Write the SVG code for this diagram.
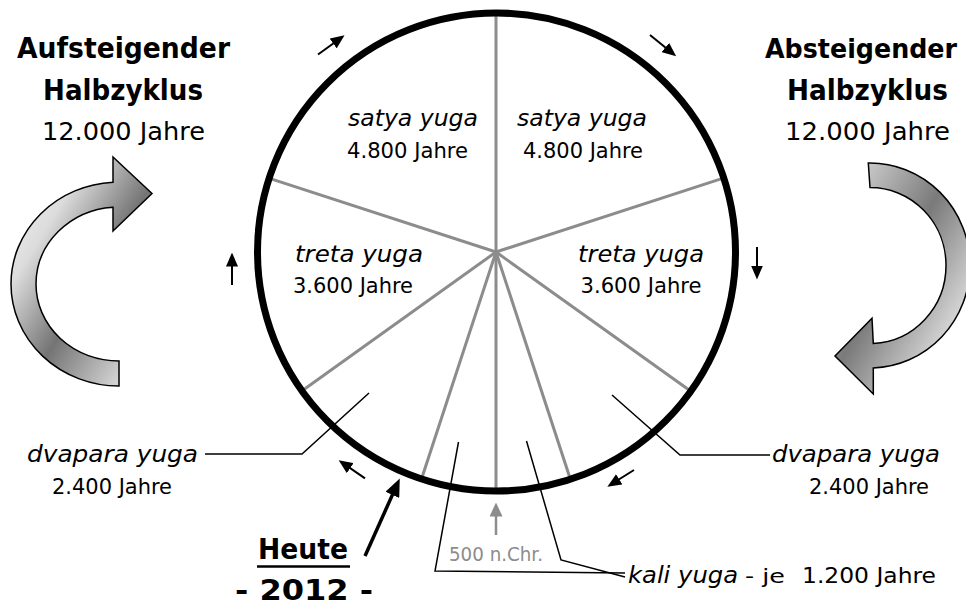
<svg xmlns="http://www.w3.org/2000/svg" width="966" height="606" viewBox="0 0 966 606">
<style>
  text { font-family: "DejaVu Sans", "Liberation Sans", sans-serif; fill: #000; }
  .title { font-weight: bold; font-size: 29px; text-anchor: middle; }
  .years { font-size: 24.5px; text-anchor: middle; }
  .yuga { font-style: italic; font-size: 23px; text-anchor: middle; }
  .sub { font-size: 20.5px; text-anchor: middle; }
  .spoke { stroke: #8c8c8c; stroke-width: 3; fill: none; }
  .leader { stroke: #000; stroke-width: 1.5; fill: none; }
  .arr { stroke: #000; stroke-width: 2; fill: none; }
  .big { stroke: #000; stroke-width: 1.5; }
</style>
<defs>
  <marker id="ah" viewBox="0 0 14 12" refX="0.5" refY="6" markerWidth="14" markerHeight="12" orient="auto" markerUnits="userSpaceOnUse">
    <path d="M0,0 L14,6 L0,12 z" fill="#000"/>
  </marker>
  <marker id="ahBig" viewBox="0 0 18 15" refX="0.5" refY="7.5" markerWidth="18" markerHeight="15" orient="auto" markerUnits="userSpaceOnUse">
    <path d="M0,0 L18,7.5 L0,15 z" fill="#000"/>
  </marker>
  <marker id="ahGray" viewBox="0 0 14 13" refX="0.5" refY="6.5" markerWidth="14" markerHeight="13" orient="auto" markerUnits="userSpaceOnUse">
    <path d="M0,0 L14,6.5 L0,13 z" fill="#8c8c8c"/>
  </marker>
  <linearGradient id="gLeft" x1="0" y1="0" x2="1" y2="1">
    <stop offset="0" stop-color="#f7f7f7"/>
    <stop offset="0.28" stop-color="#dcdcdc"/>
    <stop offset="0.56" stop-color="#747474"/>
    <stop offset="0.9" stop-color="#dddddd"/>
    <stop offset="1" stop-color="#e8e8e8"/>
  </linearGradient>
  <linearGradient id="gRight" x1="0" y1="0" x2="1" y2="1">
    <stop offset="0" stop-color="#e6e6e6"/>
    <stop offset="0.45" stop-color="#7a7a7a"/>
    <stop offset="0.85" stop-color="#e6e6e6"/>
    <stop offset="1" stop-color="#d0d0d0"/>
  </linearGradient>
</defs>
<rect x="0" y="0" width="966" height="606" fill="#fff"/>

<g id="wheel">
  <line class="spoke" x1="496" y1="252" x2="496" y2="13"/>
  <line class="spoke" x1="496" y1="252" x2="723.3" y2="178.1"/>
  <line class="spoke" x1="496" y1="252" x2="690.5" y2="391"/>
  <line class="spoke" x1="496" y1="252" x2="570.3" y2="479"/>
  <line class="spoke" x1="496" y1="252" x2="496" y2="491"/>
  <line class="spoke" x1="496" y1="252" x2="421.5" y2="479"/>
  <line class="spoke" x1="496" y1="252" x2="301.8" y2="391"/>
  <line class="spoke" x1="496" y1="252" x2="268.7" y2="178.1"/>
  <circle cx="496.5" cy="252" r="239" fill="none" stroke="#000" stroke-width="7"/>
</g>

<g id="left-title">
  <text class="title" x="123.5" y="58" textLength="213" lengthAdjust="spacingAndGlyphs">Aufsteigender</text>
  <text class="title" x="123" y="100" textLength="160" lengthAdjust="spacingAndGlyphs">Halbzyklus</text>
  <text class="years" x="123.5" y="140" textLength="163" lengthAdjust="spacingAndGlyphs">12.000 Jahre</text>
</g>
<g id="right-title">
  <text class="title" x="861" y="58" style="font-size:26.5px" textLength="192" lengthAdjust="spacingAndGlyphs">Absteigender</text>
  <text class="title" x="867.5" y="100" textLength="161" lengthAdjust="spacingAndGlyphs">Halbzyklus</text>
  <text class="years" x="867.5" y="140" textLength="165" lengthAdjust="spacingAndGlyphs">12.000 Jahre</text>
</g>

<g id="left-cycle-arrow">
  <path class="big" fill="url(#gLeft)" d="M113,157 L152,193.5 L113,231 L113,207.2 A83,77 0 0 0 36,284 A83,77 0 0 0 119,361 L119,386 A108,102 0 0 1 11,284 A108,102 0 0 1 113,182.2 Z"/>
</g>
<g id="right-cycle-arrow">
  <path class="big" fill="url(#gRight)" d="M868.3,163 A100,102.5 0 0 1 970,265.5 A100,102.5 0 0 1 873.3,367.9 L873.3,394 L835,356 L872,318.3 L873.3,343.4 A76,78 0 0 0 946,265.5 A76,78 0 0 0 870,187.5 Z"/>
</g>

<g id="satya-left">
  <text class="yuga" x="413" y="126" textLength="130" lengthAdjust="spacingAndGlyphs">satya yuga</text>
  <text class="sub" x="407.5" y="158" textLength="121" lengthAdjust="spacingAndGlyphs">4.800 Jahre</text>
</g>
<g id="satya-right">
  <text class="yuga" x="582" y="126" textLength="130" lengthAdjust="spacingAndGlyphs">satya yuga</text>
  <text class="sub" x="583" y="158" textLength="120" lengthAdjust="spacingAndGlyphs">4.800 Jahre</text>
</g>
<g id="treta-left">
  <text class="yuga" x="359" y="262" textLength="128" lengthAdjust="spacingAndGlyphs">treta yuga</text>
  <text class="sub" x="353" y="293" textLength="120" lengthAdjust="spacingAndGlyphs">3.600 Jahre</text>
</g>
<g id="treta-right">
  <text class="yuga" x="641" y="262" textLength="126" lengthAdjust="spacingAndGlyphs">treta yuga</text>
  <text class="sub" x="641" y="293" textLength="121" lengthAdjust="spacingAndGlyphs">3.600 Jahre</text>
</g>
<g id="dvapara-left">
  <text class="yuga" x="112.5" y="462" textLength="171" lengthAdjust="spacingAndGlyphs">dvapara yuga</text>
  <text class="sub" x="112" y="494" textLength="120" lengthAdjust="spacingAndGlyphs">2.400 Jahre</text>
</g>
<g id="dvapara-right">
  <text class="yuga" x="856" y="462" textLength="168" lengthAdjust="spacingAndGlyphs">dvapara yuga</text>
  <text class="sub" x="869" y="494" textLength="120" lengthAdjust="spacingAndGlyphs">2.400 Jahre</text>
</g>
<g id="kali">
  <text class="yuga" x="628" y="583" style="text-anchor:start" textLength="110" lengthAdjust="spacingAndGlyphs">kali yuga</text>
  <text class="sub" x="745" y="583" style="text-anchor:start;font-size:19px" textLength="40" lengthAdjust="spacingAndGlyphs">- je</text>
  <text class="sub" x="802" y="583" style="text-anchor:start" textLength="134" lengthAdjust="spacingAndGlyphs">1.200 Jahre</text>
</g>
<g id="marker-500">
  <text class="sub" x="496" y="561" style="fill:#8c8c8c;font-size:19px" textLength="94" lengthAdjust="spacingAndGlyphs">500 n.Chr.</text>
</g>
<g id="today">
  <text class="title" x="303" y="559" textLength="90" lengthAdjust="spacingAndGlyphs">Heute</text>
  <line x1="257" y1="566.5" x2="350" y2="566.5" stroke="#000" stroke-width="2.5"/>
  <text class="title" x="304" y="600" textLength="138" lengthAdjust="spacingAndGlyphs">- 2012 -</text>
</g>

<g id="connectors">
  <polyline class="leader" points="205,454 302,454 369,393"/>
  <polyline class="leader" points="612,395 680,455 770,455"/>
  <polyline class="leader" points="458.5,442 435,571 625,573"/>
  <polyline class="leader" points="526.5,441 561,560 625,577"/>
  <line class="arr" x1="318" y1="54.5" x2="333.6" y2="43.2" marker-end="url(#ah)"/>
  <line class="arr" x1="650" y1="35" x2="665.7" y2="47.8" marker-end="url(#ah)"/>
  <line class="arr" x1="232" y1="285" x2="232" y2="266" marker-end="url(#ah)"/>
  <line class="arr" x1="757" y1="247" x2="757" y2="266" marker-end="url(#ah)"/>
  <line class="arr" x1="365" y1="478.3" x2="349.8" y2="467.9" marker-end="url(#ah)"/>
  <line class="arr" x1="634" y1="470" x2="618.8" y2="479.5" marker-end="url(#ah)"/>
  <line x1="365" y1="556" x2="392.6" y2="494.4" stroke="#000" stroke-width="3.5" marker-end="url(#ahBig)"/>
  <line x1="496" y1="535" x2="496" y2="516" stroke="#8c8c8c" stroke-width="2.5" marker-end="url(#ahGray)"/>
</g>
</svg>
